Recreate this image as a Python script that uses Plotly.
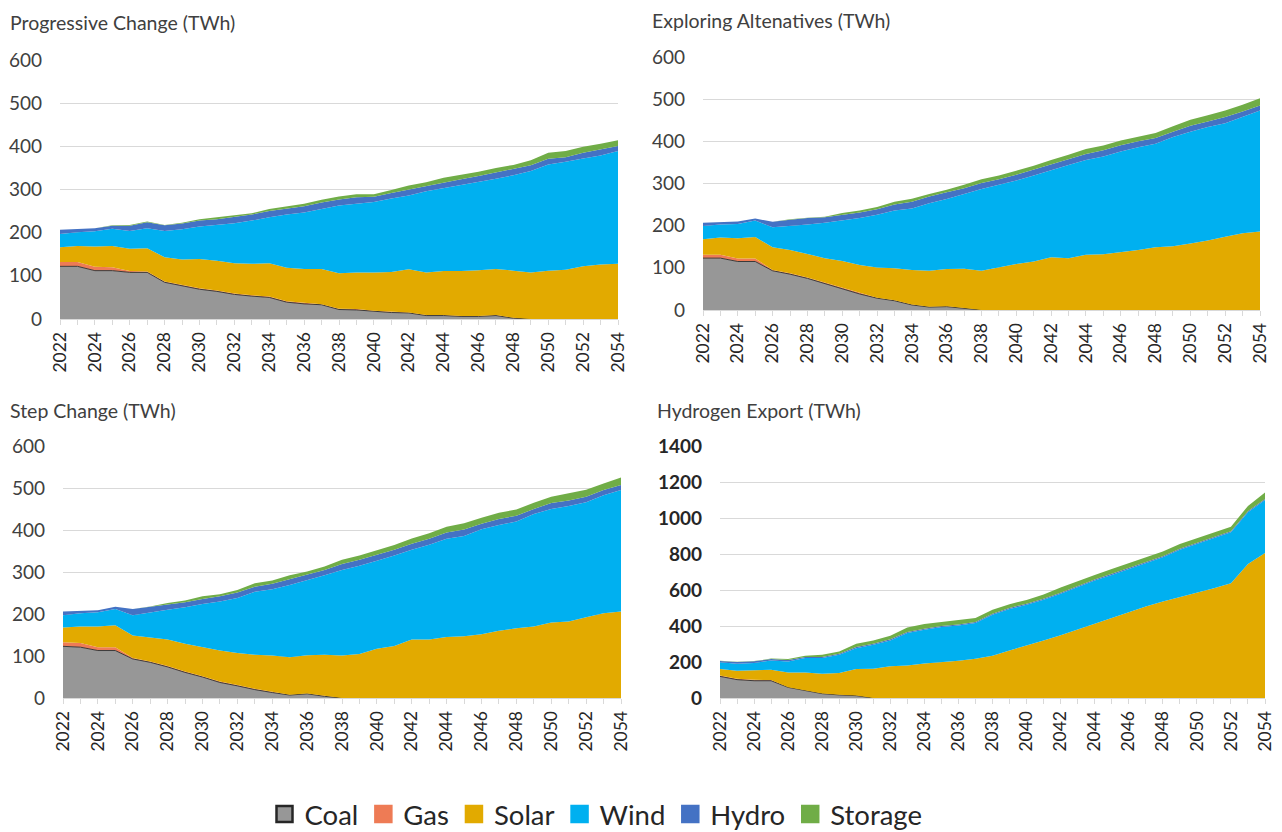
import plotly.graph_objects as go

years = list(range(2022, 2055))
tick_years = list(range(2022, 2055, 2))

series_names = ["Coal", "Gas", "Solar", "Wind", "Hydro", "Storage"]
series_colors = ["#979797", "#EE7B55", "#E2AA00", "#00B0F0", "#4472C4", "#70AD47"]

# ---- Progressive Change (TWh) ----
pc_coal = [122, 122, 112, 112, 108, 108, 85, 77, 69, 64, 57, 53, 50, 39, 35, 33, 22, 21, 18, 15, 14, 8, 8, 6, 6, 8, 2, 0, 0, 0, 0, 0, 0]
pc_gas = [10, 10, 9, 8, 3, 2, 2, 2, 2, 2, 2, 2, 2, 2, 2, 1, 2, 2, 1, 2, 1, 1, 1, 1, 1, 1, 1, 0, 0, 0, 0, 0, 0]
pc_solar = [34, 37, 47, 49, 52, 54, 56, 59, 68, 69, 70, 73, 77, 78, 79, 82, 82, 85, 89, 92, 100, 99, 102, 104, 106, 107, 109, 108, 112, 114, 122, 126, 128]
pc_wind = [31, 32, 35, 40, 41, 46, 61, 70, 75, 83, 93, 100, 107, 123, 131, 139, 157, 159, 163, 170, 171, 188, 192, 199, 204, 209, 221, 235, 246, 250, 250, 253, 261]
pc_hydro = [10, 8, 7, 7, 12, 14, 13, 13, 14, 13, 14, 14, 14, 13, 14, 15, 14, 15, 12, 13, 14, 13, 14, 14, 14, 14, 14, 13, 13, 11, 13, 14, 12]
pc_storage = [0, 0, 0, 1, 2, 2, 1, 2, 3, 5, 4, 3, 5, 6, 6, 6, 7, 7, 6, 7, 9, 8, 10, 10, 10, 11, 10, 12, 14, 14, 14, 13, 13]

# ---- Exploring Altenatives (TWh) ----
ea_coal = [123, 123, 115, 115, 93, 85, 75, 63, 51, 38, 28, 22, 12, 7, 8, 4, 0, 0, 0, 0, 0, 0, 0, 0, 0, 0, 0, 0, 0, 0, 0, 0, 0]
ea_gas = [8, 8, 7, 7, 2, 2, 2, 2, 2, 2, 1, 1, 1, 1, 1, 1, 0, 0, 0, 0, 0, 0, 0, 0, 0, 0, 0, 0, 0, 0, 0, 0, 0]
ea_solar = [37, 41, 48, 51, 54, 55, 56, 58, 63, 67, 72, 76, 82, 85, 88, 93, 93, 101, 109, 115, 125, 123, 131, 132, 137, 142, 149, 151, 158, 165, 174, 182, 186]
ea_wind = [31, 31, 34, 39, 47, 57, 70, 84, 96, 111, 125, 137, 146, 160, 166, 177, 194, 196, 198, 204, 207, 221, 225, 232, 239, 244, 245, 259, 265, 269, 269, 276, 287]
ea_hydro = [8, 6, 6, 5, 13, 15, 15, 13, 14, 13, 13, 14, 16, 16, 16, 14, 14, 13, 14, 14, 13, 14, 14, 15, 15, 14, 14, 13, 14, 13, 15, 13, 12]
ea_storage = [0, 0, 0, 0, 0, 1, 1, 1, 4, 5, 5, 7, 7, 6, 6, 8, 9, 9, 9, 9, 11, 10, 12, 11, 11, 11, 12, 13, 14, 15, 15, 16, 17]

# ---- Step Change (TWh) ----
sc_coal = [123, 121, 113, 113, 93, 85, 74, 61, 50, 37, 29, 20, 13, 7, 10, 4, 0, 0, 0, 0, 0, 0, 0, 0, 0, 0, 0, 0, 0, 0, 0, 0, 0]
sc_gas = [10, 10, 8, 8, 2, 2, 2, 2, 2, 2, 2, 2, 2, 1, 1, 1, 0, 0, 0, 0, 0, 0, 0, 0, 0, 0, 0, 0, 0, 0, 0, 0, 0]
sc_solar = [35, 39, 49, 52, 54, 57, 63, 66, 69, 74, 76, 81, 86, 89, 91, 98, 101, 105, 117, 124, 139, 139, 145, 147, 152, 160, 166, 170, 180, 182, 192, 202, 206]
sc_wind = [29, 32, 34, 39, 48, 60, 71, 87, 103, 117, 131, 150, 158, 172, 178, 189, 204, 210, 210, 215, 214, 226, 234, 239, 250, 252, 254, 268, 270, 275, 274, 281, 289]
sc_hydro = [9, 5, 5, 5, 15, 13, 12, 12, 12, 12, 13, 12, 13, 14, 13, 13, 14, 14, 14, 14, 14, 14, 15, 15, 13, 14, 14, 12, 14, 13, 13, 12, 12]
sc_storage = [0, 0, 0, 0, 0, 1, 4, 4, 6, 5, 6, 8, 8, 9, 8, 8, 10, 10, 10, 11, 13, 13, 14, 15, 14, 15, 15, 15, 15, 17, 17, 16, 18]

# ---- Hydrogen Export (TWh) ----
he_coal = [120, 102, 96, 96, 59, 43, 24, 17, 13, 0, 0, 0, 0, 0, 0, 0, 0, 0, 0, 0, 0, 0, 0, 0, 0, 0, 0, 0, 0, 0, 0, 0, 0]
he_gas = [5, 5, 5, 4, 1, 1, 1, 1, 1, 0, 0, 0, 0, 0, 0, 0, 0, 0, 0, 0, 0, 0, 0, 0, 0, 0, 0, 0, 0, 0, 0, 0, 0]
he_solar = [36, 45, 53, 57, 82, 98, 110, 121, 147, 163, 176, 181, 192, 198, 207, 218, 235, 264, 290, 320, 348, 379, 411, 444, 477, 509, 536, 560, 586, 610, 638, 745, 805]
he_wind = [37, 38, 40, 52, 61, 80, 87, 101, 116, 133, 144, 180, 187, 196, 196, 198, 227, 230, 228, 226, 231, 237, 242, 240, 240, 240, 246, 263, 270, 278, 283, 287, 295]
he_hydro = [8, 10, 10, 8, 8, 6, 6, 6, 6, 6, 6, 6, 6, 6, 6, 6, 6, 6, 6, 6, 6, 6, 6, 6, 6, 6, 6, 6, 6, 6, 6, 6, 6]
he_storage = [1, 1, 1, 2, 5, 7, 12, 13, 18, 18, 20, 25, 26, 22, 22, 22, 22, 21, 21, 23, 29, 28, 25, 26, 26, 27, 26, 27, 26, 25, 25, 29, 35]

W, H = 1282, 832

panels = [
    dict(title="Progressive Change (TWh)", data=[pc_coal, pc_gas, pc_solar, pc_wind, pc_hydro, pc_storage],
         ymax=600, dtick=100, bold=False,
         xdom=[60 / W, 618 / W], ydom=[1 - 319 / H, 1 - 60 / H], tx=8, ty=23),
    dict(title="Exploring Altenatives (TWh)", data=[ea_coal, ea_gas, ea_solar, ea_wind, ea_hydro, ea_storage],
         ymax=600, dtick=100, bold=False,
         xdom=[703 / W, 1260 / W], ydom=[1 - 310 / H, 1 - 57 / H], tx=650, ty=21),
    dict(title="Step Change (TWh)", data=[sc_coal, sc_gas, sc_solar, sc_wind, sc_hydro, sc_storage],
         ymax=600, dtick=100, bold=False,
         xdom=[63 / W, 621 / W], ydom=[1 - 698 / H, 1 - 446 / H], tx=8, ty=410),
    dict(title="Hydrogen Export (TWh)", data=[he_coal, he_gas, he_solar, he_wind, he_hydro, he_storage],
         ymax=1400, dtick=200, bold=True,
         xdom=[720 / W, 1265 / W], ydom=[1 - 698 / H, 1 - 446 / H], tx=655, ty=410),
]

FONT = "Lato, 'Open Sans', sans-serif"
fig = go.Figure()
layout = dict(
    width=W, height=H,
    margin=dict(l=0, r=0, t=0, b=0, autoexpand=False),
    paper_bgcolor="white", plot_bgcolor="white",
    font=dict(family=FONT, color="#404040"),
    showlegend=True,
    annotations=[],
)

for i, p in enumerate(panels):
    n = "" if i == 0 else str(i + 1)
    xa, ya = "x" + n, "y" + n
    for name, color, vals in zip(series_names, series_colors, p["data"]):
        line = dict(width=1, color="#3a3a3a") if name == "Coal" else dict(width=0, color=color)
        fig.add_trace(go.Scatter(
            x=years, y=vals, name=name, mode="lines",
            stackgroup="s" + str(i), fillcolor=color, line=line,
            xaxis=xa, yaxis=ya, showlegend=False, hoverinfo="x+y+name",
        ))
    layout["xaxis" + n] = dict(
        domain=p["xdom"], anchor=ya, range=[2022, 2054], automargin=False,
        tickmode="array", tickvals=tick_years, ticktext=[str(t) for t in tick_years],
        tickangle=-90, ticks="outside", ticklen=5, tickcolor="#d9d9d9",
        minor=dict(dtick=1, tick0=2022, ticks="outside", ticklen=5, tickcolor="#d9d9d9", showgrid=False),
        showline=True, linecolor="#d9d9d9", linewidth=1, showgrid=False, zeroline=False,
        tickfont=dict(size=17.5, color="#262626", family=FONT),
    )
    layout["yaxis" + n] = dict(
        domain=p["ydom"], anchor=xa, range=[0, p["ymax"]], dtick=p["dtick"], tick0=0, automargin=False,
        showgrid=True, gridcolor="#d9d9d9", gridwidth=1, zeroline=False, showline=False,
        ticks="", ticklabelstandoff=17,
        tickfont=dict(size=19, color="#262626" if p["bold"] else "#404040",
                      family=FONT, weight="bold" if p["bold"] else "normal"),
    )
    layout["annotations"].append(dict(
        text=p["title"], xref="paper", yref="paper",
        x=p["tx"] / W, y=1 - p["ty"] / H, xanchor="left", yanchor="middle",
        showarrow=False, font=dict(size=19.5, color="#404040", family=FONT),
    ))

# Legend entries as square swatches
for name, color in zip(series_names, series_colors):
    fig.add_trace(go.Scatter(
        x=[None], y=[None], mode="markers", name=name,
        marker=dict(symbol="square", size=16, color=color,
                    line=dict(width=2.5, color="#262626" if name == "Coal" else color)),
        xaxis="x", yaxis="y", showlegend=True,
    ))

layout["legend"] = dict(
    orientation="h", x=596 / W, xanchor="center", y=1 - 814 / H, yanchor="middle",
    font=dict(size=27.5, color="#262626", family=FONT), itemsizing="trace",
    traceorder="normal", itemwidth=30, bgcolor="rgba(0,0,0,0)",
)

fig.update_layout(**layout)
fig.write_html("out.html")
